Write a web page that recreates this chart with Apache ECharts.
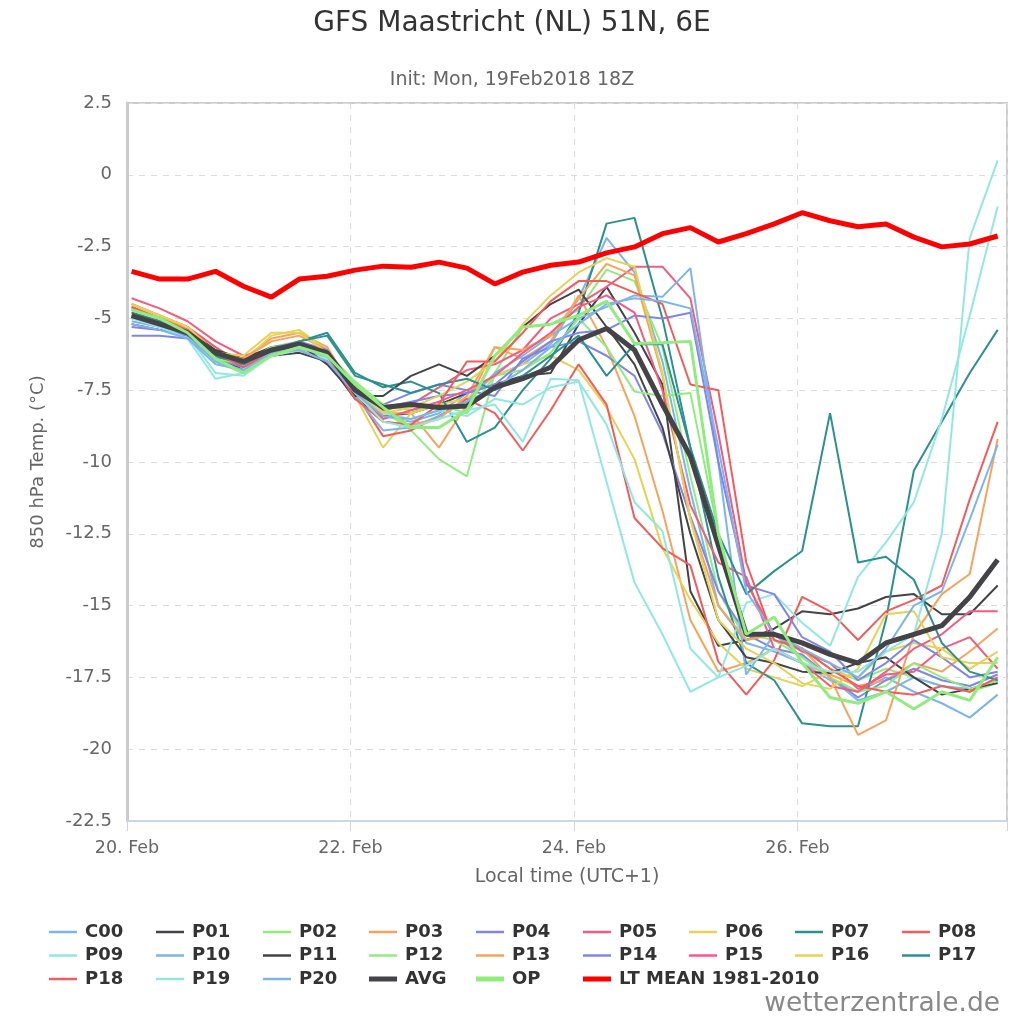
<!DOCTYPE html>
<html><head><meta charset="utf-8">
<script src="https://cdn.jsdelivr.net/npm/echarts@6/dist/echarts.min.js"></script>
<style>html,body{margin:0;padding:0;background:#fff}#c{width:1024px;height:1024px}</style>
</head><body><div id="c"></div>
<script>
// hours after 20 Feb 2018 00:00 local time (UTC+1)
const hours = [1,7,13,19,25,31,37,43,49,55,61,67,73,79,85,91,97,103,109,115,121,127,133,139,145,151,157,163,169,175,181,187];
const xTickLabels = ['20. Feb','22. Feb','24. Feb','26. Feb'];
const yTicks = [2.5,0,-2.5,-5,-7.5,-10,-12.5,-15,-17.5,-20,-22.5];

const C00 = [-5.0,-5.2,-5.6,-6.4,-6.6,-6.0,-5.8,-6.3,-7.6,-8.4,-8.6,-8.3,-7.6,-7.0,-6.6,-5.9,-4.3,-2.2,-3.4,-6.5,-11.0,-15.0,-16.3,-16.6,-17.0,-17.6,-18.0,-17.5,-18.0,-18.4,-18.9,-18.1];
const P01 = [-5.2,-5.4,-5.6,-6.3,-6.8,-6.3,-6.2,-6.5,-7.8,-8.4,-8.3,-8.0,-7.6,-7.3,-7.0,-6.9,-5.2,-3.9,-5.5,-7.3,-14.5,-16.4,-16.2,-15.8,-15.2,-15.3,-15.1,-14.7,-14.6,-15.3,-15.3,-14.3];
const P02 = [-4.8,-5.1,-5.5,-6.5,-6.9,-6.3,-6.1,-6.3,-7.4,-8.2,-8.9,-9.9,-10.5,-6.9,-5.3,-5.2,-4.7,-3.3,-3.7,-6.0,-10.5,-14.5,-16.2,-16.0,-16.5,-17.2,-17.6,-17.2,-17.5,-17.8,-18.0,-17.7];
const P03 = [-4.6,-5.0,-5.4,-6.2,-6.4,-5.7,-5.5,-6.0,-7.6,-8.3,-8.3,-9.5,-8.0,-6.0,-6.4,-5.8,-4.2,-6.0,-8.4,-11.7,-15.5,-17.3,-17.0,-16.5,-17.0,-17.4,-17.8,-17.6,-17.0,-17.3,-16.6,-15.8];
const P04 = [-5.6,-5.6,-5.7,-6.4,-6.7,-6.2,-6.0,-6.4,-7.6,-8.0,-7.6,-7.3,-7.5,-7.7,-6.4,-6.0,-5.8,-6.3,-7.0,-9.0,-11.9,-14.5,-16.0,-16.5,-16.7,-17.5,-18.2,-17.6,-17.2,-17.6,-17.8,-17.4];
const P05 = [-4.3,-4.65,-5.1,-5.8,-6.3,-6.1,-6.0,-6.2,-7.4,-8.2,-8.0,-7.4,-6.8,-6.6,-6.1,-5.0,-4.5,-3.9,-3.2,-3.2,-4.3,-9.0,-14.2,-16.0,-16.6,-17.0,-17.9,-17.4,-17.3,-16.5,-16.1,-17.2];
const P06 = [-4.6,-5.0,-5.4,-6.3,-6.5,-5.6,-5.4,-6.1,-7.7,-9.5,-8.3,-8.0,-7.8,-7.0,-6.6,-6.3,-6.8,-8.1,-9.9,-13.0,-14.8,-16.3,-17.2,-17.5,-17.8,-17.3,-17.5,-16.6,-16.3,-16.5,-17.2,-16.6];
const P07 = [-4.65,-5.0,-5.5,-6.3,-6.6,-6.1,-5.8,-5.5,-6.9,-7.4,-7.2,-7.6,-9.3,-8.8,-7.5,-6.4,-4.8,-1.7,-1.5,-5.0,-9.5,-14.0,-17.0,-17.6,-19.1,-19.2,-19.2,-15.5,-10.3,-8.6,-6.9,-5.4];
const P08 = [-4.5,-4.9,-5.3,-6.0,-6.6,-6.2,-6.1,-6.5,-7.6,-9.1,-8.9,-8.4,-7.8,-8.3,-9.6,-8.2,-6.6,-8.0,-11.95,-13.0,-13.6,-16.95,-18.1,-16.9,-14.7,-15.2,-16.2,-15.2,-14.8,-14.3,-11.3,-8.6];
const P09 = [-4.9,-5.2,-5.6,-6.9,-7.0,-6.3,-6.1,-6.4,-7.5,-8.3,-8.5,-8.2,-8.4,-7.8,-8.0,-7.4,-7.2,-8.7,-11.4,-12.4,-16.5,-17.5,-14.9,-14.6,-15.6,-16.4,-14.0,-12.8,-11.4,-8.5,-4.9,-1.1];
const P10 = [-5.1,-5.3,-5.6,-6.5,-6.8,-6.2,-6.0,-6.3,-7.7,-8.9,-8.8,-8.4,-7.9,-6.9,-6.3,-5.6,-5.0,-4.6,-4.2,-4.25,-3.25,-10.0,-17.4,-16.0,-16.8,-17.5,-18.3,-18.0,-17.5,-17.8,-17.9,-17.6];
const P11 = [-4.9,-5.1,-5.4,-6.1,-6.4,-6.0,-5.9,-6.6,-7.7,-7.7,-7.0,-6.6,-7.0,-6.3,-5.3,-4.5,-4.0,-5.3,-6.6,-8.8,-12.5,-15.5,-16.8,-17.0,-17.3,-17.35,-17.0,-16.8,-17.5,-18.1,-17.9,-17.7];
const P12 = [-4.7,-5.0,-5.4,-6.4,-6.6,-6.0,-5.9,-6.2,-7.2,-8.0,-8.2,-8.0,-8.3,-7.0,-6.8,-6.2,-5.0,-6.0,-7.55,-7.7,-7.6,-12.5,-16.0,-16.2,-16.8,-17.5,-18.0,-17.8,-17.0,-17.5,-17.9,-17.6];
const P13 = [-4.7,-5.0,-5.3,-6.2,-6.4,-5.8,-5.6,-6.1,-7.4,-8.6,-8.7,-8.5,-7.7,-6.0,-6.1,-5.6,-4.3,-3.1,-3.5,-7.0,-12.0,-15.0,-16.2,-16.0,-16.5,-17.5,-19.5,-19.0,-16.0,-14.6,-13.9,-9.2];
const P14 = [-5.3,-5.4,-5.6,-6.3,-6.6,-6.1,-5.8,-6.1,-7.4,-8.1,-7.9,-7.7,-7.6,-7.3,-6.5,-5.8,-5.5,-5.4,-4.9,-5.0,-4.8,-10.0,-14.3,-14.6,-16.1,-16.6,-17.6,-17.0,-16.2,-16.8,-17.5,-17.3];
const P15 = [-4.8,-5.1,-5.5,-6.2,-6.6,-6.1,-5.9,-6.2,-7.5,-8.5,-8.2,-7.9,-7.5,-7.0,-6.2,-5.5,-4.6,-4.2,-4.8,-7.5,-11.5,-13.5,-14.0,-16.5,-17.0,-17.8,-18.0,-17.3,-16.5,-16.0,-15.2,-15.2];
const P16 = [-4.5,-4.9,-5.3,-6.2,-6.3,-5.5,-5.5,-6.2,-7.6,-8.3,-8.1,-7.7,-7.2,-6.5,-5.2,-4.2,-3.4,-2.9,-3.2,-6.9,-12.0,-15.5,-16.5,-17.0,-17.7,-17.9,-17.2,-15.3,-15.2,-16.8,-17.0,-17.0];
const P17 = [-4.8,-5.1,-5.5,-6.3,-6.6,-6.1,-5.8,-5.6,-7.0,-7.3,-7.6,-7.3,-7.1,-7.5,-7.0,-6.3,-5.6,-7.0,-5.9,-5.9,-9.5,-12.5,-14.6,-13.8,-13.1,-8.3,-13.5,-13.3,-14.1,-16.3,-17.3,-17.6];
const P18 = [-4.6,-5.0,-5.4,-6.2,-6.7,-6.2,-6.0,-6.3,-7.8,-8.6,-8.7,-8.0,-6.5,-6.5,-5.5,-4.4,-3.7,-3.7,-4.1,-4.5,-7.3,-7.5,-13.5,-16.2,-16.5,-17.2,-17.8,-18.0,-18.1,-17.8,-18.0,-17.5];
const P19 = [-5.0,-5.3,-5.7,-7.1,-6.9,-6.2,-6.0,-6.3,-7.6,-8.6,-8.8,-8.5,-8.2,-8.0,-9.3,-7.1,-7.15,-10.7,-14.2,-16.0,-18.0,-17.5,-17.1,-16.5,-17.0,-17.3,-17.3,-16.6,-16.0,-12.5,-2.2,0.5];
const P20 = [-5.2,-5.4,-5.7,-6.6,-6.8,-6.2,-6.1,-6.5,-7.6,-8.4,-8.5,-8.2,-7.9,-7.4,-6.8,-6.0,-5.2,-4.5,-4.3,-4.4,-4.65,-9.5,-14.5,-16.0,-16.5,-17.0,-17.5,-16.5,-15.0,-14.5,-12.0,-9.4];
const AVG = [-4.9,-5.2,-5.5,-6.2,-6.5,-6.1,-5.9,-6.2,-7.5,-8.1,-8.0,-8.1,-8.05,-7.4,-7.1,-6.7,-5.75,-5.35,-6.1,-8.0,-9.8,-12.9,-16.0,-16.0,-16.3,-16.7,-17.0,-16.3,-16.0,-15.7,-14.7,-13.4];
const OP = [-4.7,-5.0,-5.5,-6.4,-6.9,-6.3,-6.0,-6.3,-7.3,-8.1,-8.8,-8.8,-8.2,-6.3,-5.3,-5.2,-4.9,-4.4,-5.87,-5.85,-5.8,-12.5,-16.0,-15.4,-17.0,-18.2,-18.4,-18.0,-18.6,-18.0,-18.3,-16.8];
const LTMEAN = [-3.36,-3.63,-3.63,-3.36,-3.88,-4.26,-3.63,-3.53,-3.32,-3.18,-3.22,-3.04,-3.25,-3.80,-3.39,-3.15,-3.04,-2.72,-2.51,-2.05,-1.84,-2.34,-2.05,-1.71,-1.32,-1.60,-1.81,-1.71,-2.17,-2.51,-2.41,-2.13];

const seriesNames = ['C00','P01','P02','P03','P04','P05','P06','P07','P08','P09','P10','P11','P12','P13','P14','P15','P16','P17','P18','P19','P20','AVG','OP','LT MEAN 1981-2010'];
const seriesValues = [C00,P01,P02,P03,P04,P05,P06,P07,P08,P09,P10,P11,P12,P13,P14,P15,P16,P17,P18,P19,P20,AVG,OP,LTMEAN];

const palette = ['#7cb5ec','#434348','#90ed7d','#f7a35c','#8085e9','#f15c80','#e4d354','#2b908f','#f45b5b','#91e8e1'];
function styleFor(i){
  if (i === 21) return {color:'#434348', width:5};
  if (i === 22) return {color:'#90ed7d', width:3};
  if (i === 23) return {color:'#ff0000', width:5};
  return {color: palette[i % 10], width:2};
}

const FONT = 'DejaVu Sans';
const series = seriesNames.map((name, i) => {
  const s = styleFor(i);
  return {
    name, type:'line', symbol:'none', showSymbol:false, silent:true,
    color: s.color,
    itemStyle:{color:s.color},
    lineStyle:{color:s.color, width:s.width},
    z: 2 + (i >= 21 ? 1 : 0),
    data: hours.map((h, k) => [h, seriesValues[i][k]])
  };
});

const colX = [49,156,263,369,476,583,689,795,902];
const rowY = [934,957.5,981];
const legends = seriesNames.map((name, i) => {
  const row = Math.floor(i / 9), col = i % 9;
  const thick = i >= 21;
  return {
    data:[{name, icon: thick ? 'path://M0,0H28V5H0Z' : 'path://M0,0H28V2.5H0Z'}],
    left: colX[col], top: rowY[row] - 11,
    itemWidth:28, itemHeight:10, itemGap:0, padding:0, symbolKeepAspect:true,
    textStyle:{fontFamily:FONT, fontSize:18, fontWeight:'bold', color:'#333', padding:[0,0,0,3]},
    selectedMode:false
  };
});

const chart = echarts.init(document.getElementById('c'), null, {renderer:'canvas'});
chart.setOption({
  animation:false,
  backgroundColor:'#fff',
  title:[
    {text:'GFS Maastricht (NL) 51N, 6E', left:'center', top:5, textStyle:{fontFamily:FONT, fontSize:28, fontWeight:'normal', color:'#333'}},
    {text:'Init: Mon, 19Feb2018 18Z', left:'center', top:66, textStyle:{fontFamily:FONT, fontSize:19, fontWeight:'normal', color:'#666'}}
  ],
  legend: legends,
  grid:{left:127, right:17, top:103, bottom:203, show:true, borderColor:'#cccccc', borderWidth:2, containLabel:false},
  xAxis:{
    type:'value', min:0, max:189, interval:48,
    name:'Local time (UTC+1)', nameLocation:'middle', nameGap:47,
    nameTextStyle:{fontFamily:FONT, fontSize:19, color:'#666'},
    axisLine:{show:true, onZero:false, lineStyle:{color:'#ccd6eb', width:2}},
    axisTick:{show:true, length:10, lineStyle:{color:'#ccd6eb'}},
    axisLabel:{fontFamily:FONT, fontSize:17.5, color:'#666', margin:18,
      formatter:(v) => xTickLabels[Math.round(v/48)] || ''},
    splitLine:{show:true, lineStyle:{color:'#dddddd', type:[6,6], width:1}}
  },
  yAxis:{
    type:'value', min:yTicks[yTicks.length-1], max:yTicks[0], interval:2.5,
    name:'850 hPa Temp. (°C)', nameLocation:'middle', nameGap:80, nameRotate:90,
    nameTextStyle:{fontFamily:FONT, fontSize:18, color:'#666'},
    axisLine:{show:true, onZero:false, lineStyle:{color:'#cccccc', width:3}},
    axisTick:{show:false},
    axisLabel:{fontFamily:FONT, fontSize:18, color:'#666', margin:15},
    splitLine:{show:true, lineStyle:{color:'#dddddd', type:[6,6], width:1}}
  },
  graphic:[{type:'text', right:24, top:991, style:{text:'wetterzentrale.de', fontFamily:FONT, fontSize:26.5, fill:'#888'}}],
  series
});
</script></body></html>
